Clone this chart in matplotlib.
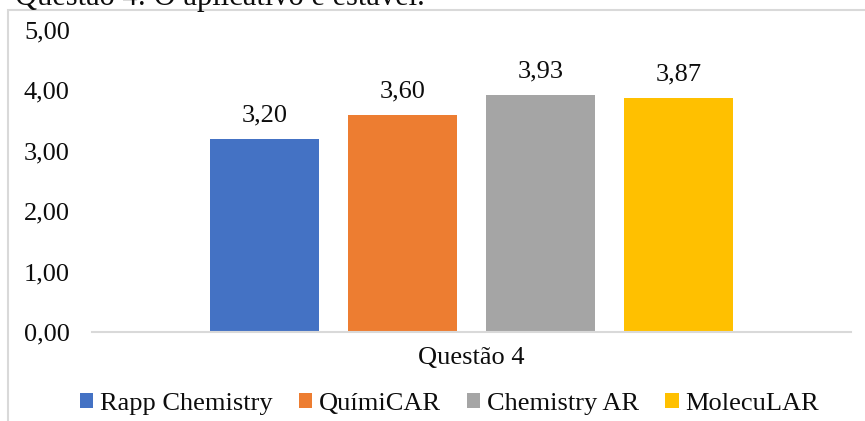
import matplotlib
matplotlib.use("Agg")
import matplotlib.pyplot as plt
from matplotlib.patches import Rectangle
import numpy as np

plt.rcParams['font.family'] = ['Liberation Serif', 'DejaVu Serif']

# Chart data
title = "Questão 4: O aplicativo é estável."
category = "Questão 4"
series_names = ["Rapp Chemistry", "QuímiCAR", "Chemistry AR", "MolecuLAR"]
values = [3.20, 3.60, 3.93, 3.87]
colors = ["#4472C4", "#ED7D31", "#A5A5A5", "#FFC000"]
y_ticks = [0, 1, 2, 3, 4, 5]

W, H = 865, 421
fig = plt.figure(figsize=(W / 100, H / 100), dpi=100)

def fx(px):
    return px / W

def fy(py):
    return 1 - py / H

TEXT = "#0d0d0d"

# chart frame (light grey border running off the canvas)
fig.patches.append(Rectangle((fx(8), -0.1), 1.2, fy(10) + 0.1,
                             transform=fig.transFigure, fill=False,
                             edgecolor="#d9d9d9", linewidth=1.5, zorder=0))

fig.text(fx(15), fy(5), title, fontsize=22, va="baseline", ha="left",
         color=TEXT)

ax = fig.add_axes([fx(92), fy(332), fx(851) - fx(92), fy(30) - fy(332)])

n = len(values)
width = 109 / 138
offsets = np.arange(n) - (n - 1) / 2
bars = []
for off, v, c, name in zip(offsets, values, colors, series_names):
    b = ax.bar(off, v, width=width, color=c, label=name, zorder=2)
    bars.append(b)
    ax.annotate(f"{v:.2f}".replace(".", ","), xy=(off, v), xytext=(0, 12.5),
                textcoords="offset points", ha="center", va="baseline",
                fontsize=19, color=TEXT)

ax.set_xlim(-2.75, 2.75)
ax.set_ylim(0, 5)
ax.set_yticks(y_ticks)
ax.set_yticklabels([f"{t:.2f}".replace(".", ",") for t in y_ticks])
ax.set_xticks([0])
ax.set_xticklabels([category])
ax.tick_params(axis="both", length=0, labelsize=19, colors=TEXT)
ax.tick_params(axis="y", pad=16)
ax.tick_params(axis="x", pad=11)

for s in ["top", "right", "left"]:
    ax.spines[s].set_visible(False)
ax.spines["bottom"].set_color("#d9d9d9")
ax.spines["bottom"].set_linewidth(1.5)

fig.legend(handles=[b[0] for b in bars], labels=series_names, loc="center",
           bbox_to_anchor=(fx(449.5), fy(404)), ncol=4, frameon=False,
           fontsize=19, handlelength=0.5, handleheight=0.5,
           handletextpad=0.25, columnspacing=1.0, borderpad=0,
           labelcolor=TEXT)

fig.savefig("out.png", dpi=100)
